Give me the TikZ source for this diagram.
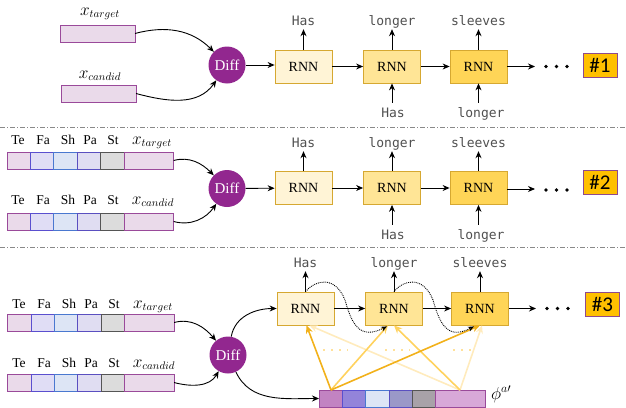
\documentclass[tikz,border=0pt]{standalone}
\usepackage{fontspec}
\setmainfont{Liberation Serif}
\newfontfamily\monof{DejaVu Sans Mono}
\newfontfamily\hashf{Carlito}
\usetikzlibrary{arrows.meta,calc}
\definecolor{rnnA}{HTML}{FFF4D6}
\definecolor{rnnB}{HTML}{FFE596}
\definecolor{rnnC}{HTML}{FFD557}
\definecolor{rnnEdge}{HTML}{D6A831}
\definecolor{diffP}{HTML}{92278F}
\definecolor{tagF}{HTML}{FFC000}
\definecolor{tagE}{HTML}{8E4A8E}
\definecolor{lblG}{HTML}{505050}
\definecolor{cX}{HTML}{EADAEA}\definecolor{eX}{HTML}{9A4A9A}
\definecolor{cFa}{HTML}{E0DDF5}\definecolor{eFa}{HTML}{5A4FCF}
\definecolor{cSh}{HTML}{DDE5F5}\definecolor{eSh}{HTML}{4A78D0}
\definecolor{cPa}{HTML}{E0DDF2}\definecolor{ePa}{HTML}{5A4FC0}
\definecolor{cSt}{HTML}{DCDCDC}\definecolor{eSt}{HTML}{555555}
\definecolor{fA}{HTML}{C283C2}
\definecolor{fB}{HTML}{9384DA}
\definecolor{fC}{HTML}{DDE5F5}
\definecolor{fD}{HTML}{9A98C8}
\definecolor{fE}{HTML}{A8A2A8}
\definecolor{fF}{HTML}{D8A8D8}
\definecolor{oS}{HTML}{F2B11A}
\definecolor{oM}{HTML}{FFD25E}
\definecolor{oL}{HTML}{FFEBBD}
\definecolor{oDot}{HTML}{FFE19A}
\definecolor{sepG}{HTML}{8A8A8A}
% #1 name prefix, #2 x0, #3 y top (positive, downwards)
\newcommand\mybar[3]{%
  \node[seg, fill=cX, draw=eX, minimum width=23.4pt] (#1te) at (#2,-#3) {};
  \node[seg, fill=cFa, draw=eFa, minimum width=23.4pt] (#1fa) at (#1te.north east) {};
  \node[seg, fill=cSh, draw=eSh, minimum width=23.4pt] (#1sh) at (#1fa.north east) {};
  \node[seg, fill=cPa, draw=ePa, minimum width=23.4pt] (#1pa) at (#1sh.north east) {};
  \node[seg, fill=cSt, draw=eSt, minimum width=23.4pt] (#1st) at (#1pa.north east) {};
  \node[seg, fill=cX, draw=eX, minimum width=49.6pt] (#1x) at (#1st.north east) {};
}
% #1 prefix, #2 baseline y, #3 shift, #4 x of math label, #5 subscript
\newcommand\mylabels[5]{%
  \node[tlbl] (#1l1) at (18+#3,-#2) {Te};
  \node[tlbl] (#1l2) at (43+#3,-#2) {Fa};
  \node[tlbl] (#1l3) at (68+#3,-#2) {Sh};
  \node[tlbl] (#1l4) at (90+#3,-#2) {Pa};
  \node[tlbl] (#1l5) at (113+#3,-#2) {St};
  \node[mlbl] (#1l6) at (#4,-#2) {$x_{#5}$};
}
\begin{document}
\begin{tikzpicture}[x=1pt,y=1pt,
  arr/.style={-{Stealth[length=7pt,width=6pt]}, line width=0.9pt, black},
  oarr/.style={-{Stealth[length=8pt,width=7pt]}, line width=1.6pt},
  dotarr/.style={-{Stealth[length=6pt,width=5pt]}, line width=0.9pt, densely dotted, black},
  rnnbox/.style={draw=rnnEdge, line width=0.8pt, minimum width=57pt, minimum height=33pt, inner sep=0pt, font=\fontsize{14}{16}\selectfont},
  outlbl/.style={font=\monof\fontsize{13}{15}\selectfont, text=lblG, inner sep=1pt, anchor=base, text depth=3pt},
  inlbl/.style={font=\monof\fontsize{13}{15}\selectfont, text=lblG, inner sep=1pt, anchor=base, text height=10pt},
  diffc/.style={circle, fill=diffP, minimum size=37pt, inner sep=0pt, text=white, font=\fontsize{15}{17}\selectfont},
  tag/.style={draw=tagE, fill=tagF, line width=0.8pt, minimum width=34pt, minimum height=24pt, inner sep=0pt, font=\hashf\fontsize{21}{23}\selectfont},
  seg/.style={anchor=north west, line width=0.8pt, minimum height=17pt, inner sep=0pt, outer sep=0pt},
  tlbl/.style={font=\fontsize{13.5}{15}\selectfont, anchor=base, inner sep=0pt},
  mlbl/.style={font=\fontsize{16}{18}\selectfont, anchor=base, inner sep=0pt},
  sep/.style={sepG, line width=0.6pt, dash pattern=on 5pt off 2pt on 1pt off 2pt}
]
\useasboundingbox (0,0) rectangle (626,-407);

% separators
\coordinate (s1a) at (0,-127); \coordinate (s1b) at (626,-127);
\coordinate (s2a) at (0,-247); \coordinate (s2b) at (626,-247);
\draw[sep] (s1a) -- (s1b);
\draw[sep] (s2a) -- (s2b);

% ================= Section 1 =================
\node[mlbl] (xt1) at (100,-15) {$x_{target}$};
\node[mlbl] (xc1) at (100,-78) {$x_{candid}$};
\node[seg, fill=cX, draw=eX, minimum width=75pt] (t1) at (60,-25) {};
\node[seg, fill=cX, draw=eX, minimum width=75pt] (c1) at (61,-85) {};
\node[diffc] (d1) at (227,-65) {Diff};
\draw[arr] (t1.east) to[out=15,in=135] (d1);
\draw[arr] (c1.east) to[out=-15,in=-125] (d1);
\node[rnnbox, fill=rnnA] (r11) at (303.5,-66.5) {RNN};
\node[rnnbox, fill=rnnB] (r12) at (392,-66.5) {RNN};
\node[rnnbox, fill=rnnC] (r13) at (478.5,-66.5) {RNN};
\draw[arr] (d1.east) -- (r11.west |- d1.east);
\draw[arr] (r11) -- (r12);
\draw[arr] (r12) -- (r13);
\coordinate (e1) at (535,-66.5);
\draw[arr] (r13) -- (e1);
\foreach \i in {0,1,2} \fill (546+\i*10.5,-66.5) circle (1.8pt);
\node[tag] (h1) at (600,-65) {\#1};
\node[outlbl] (o11) at (303.5,-25) {Has};
\node[outlbl] (o12) at (392,-25) {longer};
\node[outlbl] (o13) at (478.5,-25) {sleeves};
\draw[arr] (r11) -- (o11);
\draw[arr] (r12) -- (o12);
\draw[arr] (r13) -- (o13);
\node[inlbl] (i12) at (393,-117) {Has};
\node[inlbl] (i13) at (481,-117) {longer};
\draw[arr, shorten <=3pt] (i12.north -| r12.south) -- (r12.south);
\draw[arr, shorten <=3pt] (i13.north -| r13.south) -- (r13.south);

% ================= Section 2 =================
\mybar{t2}{7}{152}
\mybar{c2}{7}{213}
\mylabels{a2}{144}{0}{152}{target}
\mylabels{b2}{204}{0}{153}{candid}
\node[diffc] (d2) at (227,-188.5) {Diff};
\draw[arr] (t2x.east) to[out=15,in=135] (d2);
\draw[arr] (c2x.east) to[out=-15,in=-125] (d2);
\node[rnnbox, fill=rnnA] (r21) at (303.5,-188) {RNN};
\node[rnnbox, fill=rnnB] (r22) at (392,-188) {RNN};
\node[rnnbox, fill=rnnC] (r23) at (478.5,-188) {RNN};
\draw[arr] (d2) -- (r21);
\draw[arr] (r21) -- (r22);
\draw[arr] (r22) -- (r23);
\coordinate (e2) at (535,-189);
\draw[arr] (r23.east |- e2) -- (e2);
\foreach \i in {0,1,2} \fill (546+\i*10.5,-190) circle (1.8pt);
\node[tag] (h2) at (600,-182) {\#2};
\node[outlbl] (o21) at (303.5,-147) {Has};
\node[outlbl] (o22) at (392,-147) {longer};
\node[outlbl] (o23) at (478.5,-147) {sleeves};
\draw[arr] (r21) -- (o21);
\draw[arr] (r22) -- (o22);
\draw[arr] (r23) -- (o23);
\node[inlbl] (i22) at (393,-239) {Has};
\node[inlbl] (i23) at (481,-239) {longer};
\draw[arr, shorten <=3pt] (i22.north -| r22.south) -- (r22.south);
\draw[arr, shorten <=3pt] (i23.north -| r23.south) -- (r23.south);

% ================= Section 3 =================
\mybar{t3}{7.5}{314}
\mybar{c3}{7.5}{374}
\mylabels{a3}{308}{1}{153}{target}
\mylabels{b3}{367}{1}{154}{candid}
\node[diffc] (d3) at (228,-355) {Diff};
\draw[arr] (t3x.east) to[out=15,in=130] (d3);
\draw[arr] (c3x.east) to[out=-15,in=-120] (d3);
\node[rnnbox, fill=rnnA] (r31) at (305.5,-308.5) {RNN};
\node[rnnbox, fill=rnnB] (r32) at (394,-308.5) {RNN};
\node[rnnbox, fill=rnnC] (r33) at (480,-308.5) {RNN};
\draw[arr] (d3) to[out=80,in=180] (r31.west);
\draw[arr] (r31) -- (r32);
\draw[arr] (r32) -- (r33);
\coordinate (e3) at (536,-308.5);
\draw[arr] (r33) -- (e3);
\foreach \i in {0,1,2} \fill (547+\i*10.5,-308.5) circle (1.8pt);
\node[tag] (h3) at (602.5,-304) {\#3};
\node[outlbl] (o31) at (305.5,-267) {Has};
\node[outlbl] (o32) at (394,-267) {longer};
\node[outlbl] (o33) at (480,-267) {sleeves};
\draw[arr] (r31) -- (o31);
\draw[arr] (r32) -- (o32);
\draw[arr] (r33) -- (o33);

% feature bar
\node[seg, fill=fA, draw=eX, minimum width=23pt] (fb1) at (319,-390) {};
\node[seg, fill=fB, draw=eFa, minimum width=23pt] (fb2) at (fb1.north east) {};
\node[seg, fill=fC, draw=eSh, minimum width=24pt] (fb3) at (fb2.north east) {};
\node[seg, fill=fD, draw=ePa, minimum width=23pt] (fb4) at (fb3.north east) {};
\node[seg, fill=fE, draw=eSt, minimum width=23pt] (fb5) at (fb4.north east) {};
\node[seg, fill=fF, draw=eX, minimum width=50pt] (fb6) at (fb5.north east) {};
\node[mlbl, anchor=base west, font=\fontsize{18}{20}\selectfont] (phi) at (491,-399) {$\phi^{a\prime}$};
\draw[arr] (d3) to[out=-65,in=180] (fb1.west);

% orange attention arrows
\coordinate (p1) at (331,-390);
\coordinate (p2) at (460,-390);
\draw[oarr, oL] (p2) -- ($(r31.south)+(4,0)$);
\draw[oarr, oL] (p2) -- ($(r33.south)+(2,0)$);
\draw[oarr, oM] (p1) -- ($(r32.south)+(-6,0)$);
\draw[oarr, oM] (p2) -- ($(r32.south)+(0,0)$);
\draw[oarr, oS] (p1) -- ($(r31.south)+(1,0)$);
\draw[oarr, oS] (p1) -- ($(r33.south)+(0,0)$);
% faded dots standing for further arrows
\draw[oDot, line width=1.8pt, dash pattern=on 2pt off 6pt] (323,-350) -- (348,-350);
\draw[oDot, line width=1.8pt, dash pattern=on 2pt off 6pt] (385,-350) -- (410,-350);
\draw[oDot, line width=1.8pt, dash pattern=on 2pt off 6pt] (453,-350) -- (475,-350);

% dotted recurrent connections
\draw[dotarr] (r31.north) .. controls (315,-280) and (335,-275) .. (345,-300)
   .. controls (352,-325) and (360,-340) .. ($(r32.south)+(-7,-1)$);
\draw[dotarr] (r32.north) .. controls (403,-280) and (423,-275) .. (433,-300)
   .. controls (440,-325) and (448,-340) .. ($(r33.south)+(-6,-1)$);
\end{tikzpicture}
\end{document}
